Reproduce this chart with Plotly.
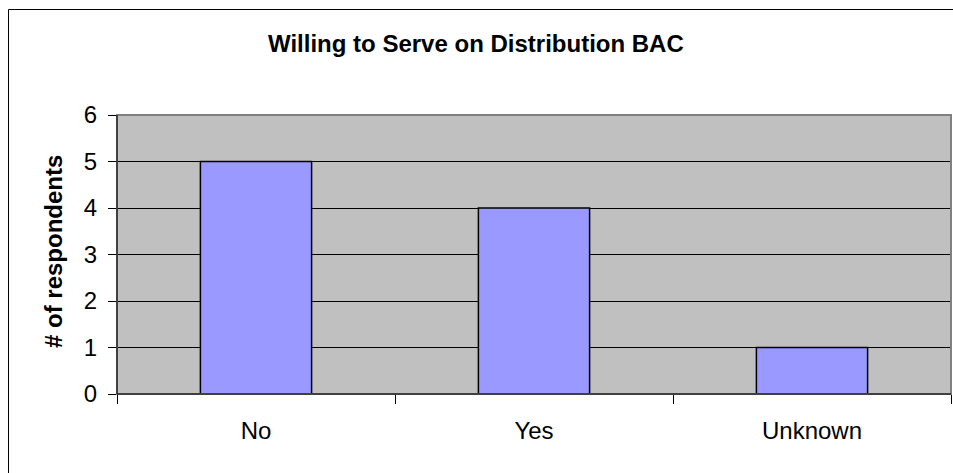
import plotly.graph_objects as go

categories = ["No", "Yes", "Unknown"]
values = [5, 4, 1]
y_ticks = [0, 1, 2, 3, 4, 5, 6]

title_text = "Willing to Serve on Distribution BAC"
y_title = "# of respondents"

FONT = "Arial, Liberation Sans, sans-serif"

fig = go.Figure()
fig.add_trace(go.Bar(
    x=categories, y=values,
    marker=dict(color="#9999FF", line=dict(color="#000000", width=1.5)),
    width=0.4,
))

L, R, T, B = 117, 2, 115, 79
W, H = 953, 473
pw, ph = W - L - R, H - T - B

def px_x(px):
    return (px - L) / pw

def px_y(py):
    return (H - B - py) / ph

fig.update_layout(
    width=W, height=H,
    margin=dict(l=L, r=R, t=T, b=B),
    paper_bgcolor="white",
    plot_bgcolor="#C0C0C0",
    showlegend=False,
    font=dict(family=FONT, color="black"),
    xaxis=dict(
        type="category",
        tickson="boundaries",
        ticks="outside", ticklen=9, tickcolor="#000", tickwidth=1,
        showline=True, linecolor="#000", linewidth=1,
        showgrid=False,
        tickfont=dict(size=24, family=FONT),
        ticklabelstandoff=15,
        range=[-0.5, 2.5],
    ),
    yaxis=dict(
        range=[0, 6],
        tickvals=y_ticks,
        ticks="outside", ticklen=8, tickcolor="#000", tickwidth=1,
        showline=True, linecolor="#000", linewidth=1,
        showgrid=True, gridcolor="#000", gridwidth=1,
        zeroline=False,
        tickfont=dict(size=24, family=FONT),
        ticklabelstandoff=6,
    ),
    shapes=[
        dict(type="rect", xref="paper", yref="paper",
             x0=0, x1=1, y0=0, y1=1,
             line=dict(color="#808080", width=2), layer="above"),
        dict(type="line", xref="paper", yref="paper",
             x0=0, x1=0, y0=0, y1=1,
             line=dict(color="#000", width=1), layer="above"),
        dict(type="line", xref="paper", yref="paper",
             x0=0, x1=1, y0=0, y1=0,
             line=dict(color="#000", width=1), layer="above"),
        dict(type="rect", xref="paper", yref="paper",
             x0=px_x(8.5), x1=px_x(960), y0=px_y(480), y1=px_y(9.5),
             line=dict(color="#000", width=1), layer="above"),
    ],
    annotations=[
        dict(text="<b>" + title_text + "</b>", xref="paper", yref="paper",
             x=px_x(476), y=px_y(44), xanchor="center", yanchor="middle",
             showarrow=False, font=dict(size=24, family=FONT, color="#000")),
        dict(text="<b>" + y_title + "</b>", xref="paper", yref="paper",
             x=px_x(53), y=px_y(252), xanchor="center", yanchor="middle",
             textangle=-90, showarrow=False,
             font=dict(size=24, family=FONT, color="#000")),
    ],
)

fig.write_html("out.html")
